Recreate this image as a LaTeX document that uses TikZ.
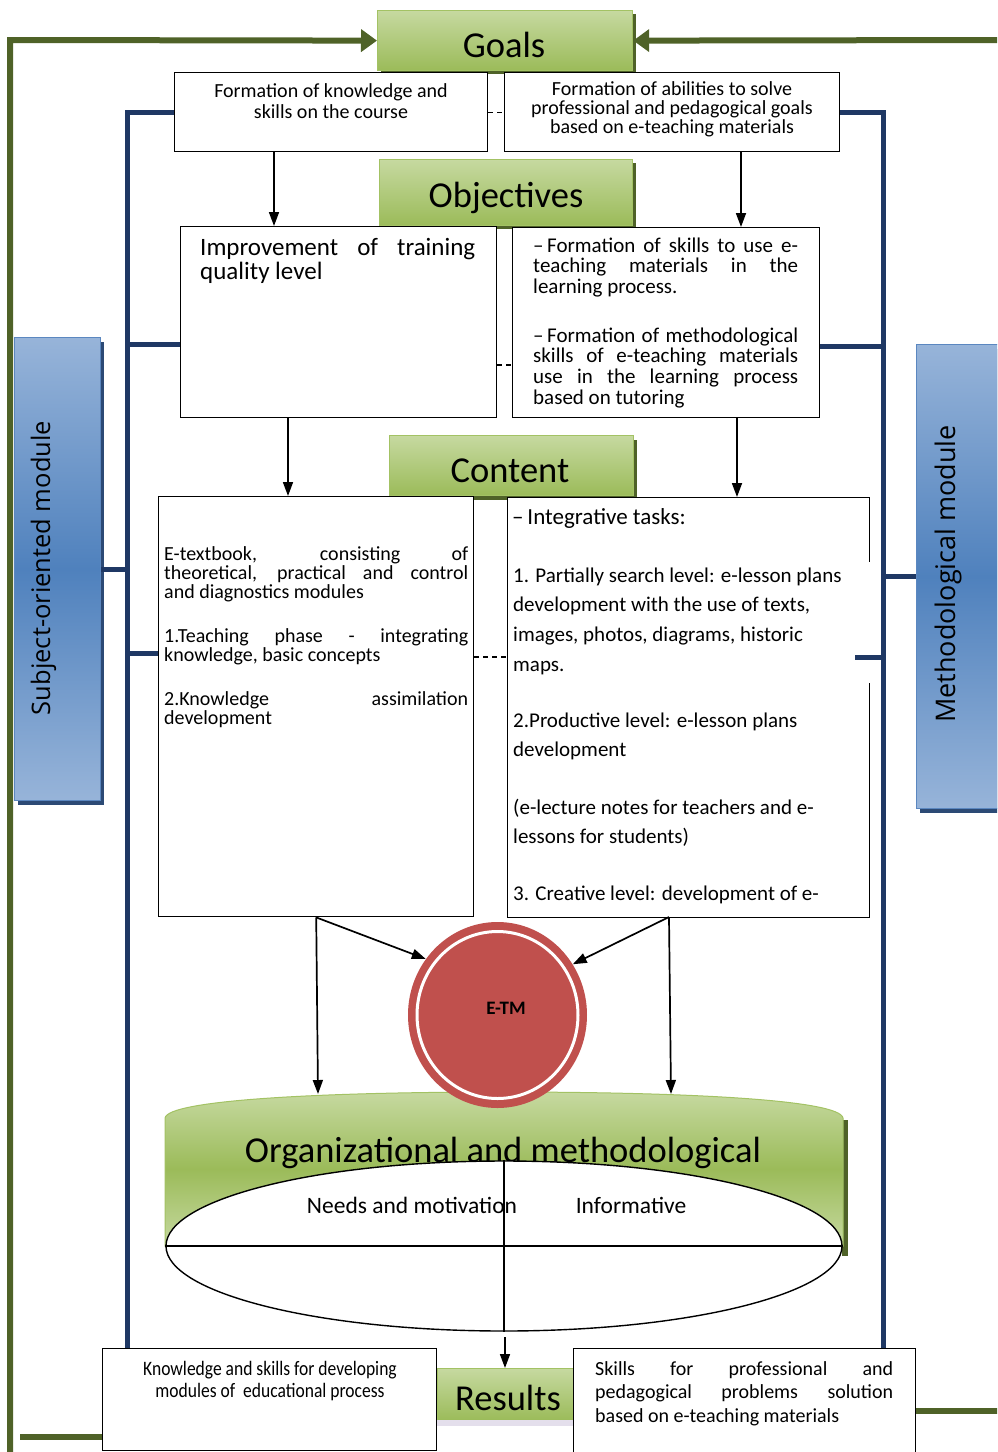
\documentclass[tikz,border=0pt]{standalone}
\usepackage{fontspec}
\setmainfont{Carlito}
\newfontfamily\modfont{Open Sans}
\usetikzlibrary{arrows.meta,shapes.geometric}
\definecolor{gline}{HTML}{4F6228}
\definecolor{bline}{HTML}{1F3864}
\definecolor{gtop}{HTML}{C6D9A0}
\definecolor{gbot}{HTML}{9BBB59}
\definecolor{gedge}{HTML}{A3C264}
\definecolor{btop}{HTML}{97B4D9}
\definecolor{bmid}{HTML}{4F81BD}
\definecolor{bedge}{HTML}{5B87C0}
\definecolor{bshad}{HTML}{2C4A75}
\definecolor{etmred}{HTML}{C0504D}
\definecolor{lav}{HTML}{E4DFEC}
\newcommand{\jline}[2]{\makebox[#1][s]{#2}}
\newcommand{\fs}[2]{\fontsize{#1}{#2}\selectfont\lineskiplimit=-100pt}
\newcommand{\cond}[1]{\scalebox{0.855}[1]{#1}}
\begin{document}
\begin{tikzpicture}[x=1pt,y=-1pt,
  wbox/.style={draw=black, line width=1.4pt, fill=white, inner sep=0, anchor=north west},
  gbox/.style={draw=gedge, line width=1.2pt, top color=gtop, bottom color=gbot, inner sep=0, anchor=north west},
  gshadow/.style={fill=gline, draw=none, inner sep=0, anchor=north west},
  bmod/.style={draw=bedge, line width=1.2pt, top color=btop, bottom color=btop, middle color=bmid, inner sep=0, anchor=north west},
  bshadow/.style={fill=bshad, draw=none, inner sep=0, anchor=north west},
  head/.style={anchor=base, inner sep=0, font=\fs{36.5}{40}},
  para/.style={anchor=north west, inner sep=0, align=left},
  arr/.style={-{Triangle[length=14pt,width=10pt]}, line width=1.7pt, black},
  garr/.style={-{Triangle[length=16pt,width=22pt]}, line width=6pt, gline, line join=miter},
  bl/.style={line width=5pt, bline, line join=miter},
  gl/.style={line width=6pt, gline},
  dsh/.style={line width=1.2pt, dash pattern=on 5pt off 4pt}
]
\useasboundingbox (0,0) rectangle (997,1452);
\clip (0,0) rectangle (997,1452);

% ---------- heading boxes ----------
\node[gshadow, minimum width=255, minimum height=60] (goalsS) at (381,14) {};
\node[gbox, minimum width=255, minimum height=60] (goals) at (377,10) {};
\node[head] (goalsT) at (504,57) {Goals};

\node[wbox, minimum width=313, minimum height=79] (g1) at (174,72) {};
\node[wbox, minimum width=335, minimum height=79] (g2) at (504,72) {};
\node[para, align=center, anchor=north, font=\fs{20}{21}] (g1T) at (331,82.3) {\strut Formation of knowledge and\\skills on the course};
\node[para, align=center, anchor=north, font=\fs{20}{18.8}] (g2T) at (672,81.8) {\strut Formation of abilities to solve\\professional and pedagogical goals\\based on e-teaching materials};

\node[gshadow, minimum width=253, minimum height=66] (objS) at (383,163) {};
\node[gbox, minimum width=253, minimum height=66] (obj) at (379,159) {};
\node[head] (objT) at (506,207) {Objectives};

\node[wbox, minimum width=316, minimum height=191] (o1) at (180,226) {};
\node[wbox, minimum width=307, minimum height=190] (o2) at (512,227) {};
\node[para, font=\fs{25}{23.5}] (o1T) at (200,238.5) {\strut\jline{275pt}{Improvement of training}\\quality level};
\node[para, font=\fs{21}{20.6}] (o2a) at (533,237.6) {\strut\jline{265pt}{–\,Formation of skills to use e-}\\\jline{265pt}{teaching materials in the}\\learning process.};
\node[para, font=\fs{21}{20.6}] (o2b) at (533,327.6) {\strut\jline{265pt}{–\,Formation of methodological}\\\jline{265pt}{skills of e-teaching materials}\\\jline{265pt}{use in the learning process}\\based on tutoring};

\node[gshadow, minimum width=244, minimum height=60] (conS) at (393,440) {};
\node[gbox, minimum width=244, minimum height=60] (con) at (389,435) {};
\node[head] (conT) at (510,482) {Content};

\node[wbox, minimum width=315, minimum height=420] (cl) at (158,496) {};
\node[wbox, minimum width=362, minimum height=420] (cr) at (507,497) {};
\draw[white, line width=3pt] (869,562) -- (869,683);
\node[para, font=\fs{20}{18.8}] (cl1) at (164,546.8) {\strut\jline{304pt}{E-textbook, consisting of}\\\jline{304pt}{theoretical, practical and control}\\and diagnostics modules};
\node[para, font=\fs{20}{18.8}] (cl2) at (164,628.8) {\strut\jline{304pt}{1.Teaching phase - integrating}\\knowledge, basic concepts};
\node[para, font=\fs{20}{18.8}] (cl3) at (164,691.8) {\strut\jline{304pt}{2.Knowledge assimilation}\\development};

\node[anchor=base west, inner sep=0, font=\fs{23}{28}] (cr0) at (512,524) {–\,Integrative tasks:};
\node[para, font=\fs{21}{29.8}] (cr1) at (513,561.1) {\strut 1. Partially search level: e-lesson plans\\development with the use of texts,\\images, photos, diagrams, historic\\maps.};
\node[para, font=\fs{21}{29.8}] (cr2) at (513,706.1) {\strut 2.Productive level: e-lesson plans\\development};
\node[para, font=\fs{21}{29.8}] (cr3) at (513,793.1) {\strut (e-lecture notes for teachers and e-\\lessons for students)};
\node[para, font=\fs{21}{29.8}] (cr4) at (513,879.1) {\strut 3. Creative level: development of e-};

% ---------- side modules ----------
\node[bshadow, minimum width=86, minimum height=463] (subjS) at (18,342) {};
\node[bmod, minimum width=86, minimum height=463] (subj) at (14,337) {};
\node[rotate=90, anchor=base, inner sep=0, font=\modfont\fontsize{25.5}{28}\selectfont] (subjT) at (50,568) {Subject-oriented module};
\node[bshadow, minimum width=95, minimum height=464] (methS) at (920,349) {};
\node[bmod, minimum width=95, minimum height=464] (meth) at (916,344) {};
\node[rotate=90, anchor=base, inner sep=0, font=\modfont\fontsize{27}{30}\selectfont] (methT) at (955,574) {Methodological module};

% ---------- organizational banner ----------
\fill[gline] (842,1120) rectangle (848,1256);
\path[draw=gedge, line width=1pt, top color=gtop, bottom color=gtop, middle color=gbot]
  (165,1246) -- (165,1118) .. controls (168,1100) and (320,1092) .. (504,1092)
  .. controls (690,1092) and (840,1100) .. (843,1118) -- (843,1246) -- cycle;
\node[head] (orgT) at (503,1162) {Organizational and methodological};
\node[ellipse, draw=black, line width=1.4pt, fill=white, minimum width=676, minimum height=170, inner sep=0] (oval) at (504,1246) {};
\draw[line width=1.4pt] (oval.west) -- (oval.east);
\draw[line width=1.4pt] (oval.north) -- (oval.south);
\node[anchor=base, inner sep=0, font=\fs{23.5}{26}] (needs) at (412,1213) {Needs and motivation};
\node[anchor=base, inner sep=0, font=\fs{23.5}{26}] (inform) at (631,1213) {Informative};

% ---------- E-TM ----------
\node[ellipse, fill=etmred, minimum width=179, minimum height=186, inner sep=0] (etm) at (497.5,1015) {};
\draw[white, line width=3pt] (etm.center) ellipse [x radius=80.5, y radius=83.5];
\node[anchor=base, inner sep=0, font=\bfseries\fs{19}{22}] (etmT) at (506,1014) {E-TM};

% ---------- results ----------
\node[gbox, minimum width=136, minimum height=52] (res) at (437,1368) {};
\fill[lav] (437,1420) rectangle (573,1426);
\node[head] (resT) at (508,1410) {Results};
\node[wbox, minimum width=334, minimum height=102] (know) at (102,1348) {};
\node[wbox, minimum width=342, minimum height=115] (skills) at (573,1348) {};
\node[para, align=center, anchor=north, font=\fs{20.5}{22}] (knowT) at (270,1360) {\strut\cond{Knowledge and skills for developing}\\\cond{modules of\ \ educational process}};
\node[para, font=\fs{20}{23.5}] (skillsT) at (595,1358.5) {\strut\jline{298pt}{Skills for professional and}\\\jline{298pt}{pedagogical problems solution}\\based on e-teaching materials};

% ---------- coordinates ----------
\coordinate (gTL) at (10,40);
\coordinate (gBL) at (10,1470);
\coordinate (gTR) at (1010,40);
\coordinate (gB1) at (20,1437);
\coordinate (gB2) at (1010,1411);
\coordinate (bL) at (127,0);
\coordinate (bR) at (883,0);
\coordinate (yb1) at (0,344);
\coordinate (yb3) at (0,653);
\coordinate (yb4) at (0,346);
\coordinate (c855) at (855,657);
\coordinate (x1) at (274,0);
\coordinate (x2) at (741,0);
\coordinate (x3) at (288,0);
\coordinate (x4) at (737,0);
\coordinate (crs) at (669,917);
\coordinate (banL) at (318,1094);
\coordinate (banR) at (671,1094);
\coordinate (yd2) at (0,365);
\coordinate (yd3) at (0,657);
\coordinate (ovb) at (505,1337);

% ---------- green feedback lines ----------
\draw[garr] (gBL) -- (gTL) -- (goals.west);
\draw[garr] (gTR) -- (goals.east);
\draw[gl] (gB1) -- (gB1 -| know.west);
\draw[gl] (skills.east |- gB2) -- (gB2);

% ---------- blue module lines ----------
\draw[bl] (g1.west) -| (bL |- know.north);
\draw[bl] (g2.east) -| (bR |- skills.north);
\draw[bl] (bL |- yb1) -- (o1.west |- yb1);
\draw[bl] (subj.east) -- (subj.east -| bL);
\draw[bl] (bL |- yb3) -- (cl.west |- yb3);
\draw[bl] (o2.east |- yb4) -- (bR |- yb4);
\draw[bl] (bR |- meth.west) -- (meth.west);
\draw[bl] (c855) -- (bR |- c855);

% ---------- dashed links ----------
\draw[dsh] (g1.east) -- (g2.west);
\draw[dsh] (o1.east |- yd2) -- (o2.west |- yd2);
\draw[dsh] (cl.east |- yd3) -- (cr.west |- yd3);

% ---------- arrows ----------
\draw[arr] (g1.south -| x1) -- (o1.north -| x1);
\draw[arr] (g2.south -| x2) -- (o2.north -| x2);
\draw[arr] (o1.south -| x3) -- (cl.north -| x3);
\draw[arr] (o2.south -| x4) -- (cr.north -| x4);
\draw[arr] (cl.south) -- (etm.142);
\draw[arr] (cl.south) -- (banL);
\draw[arr] (crs) -- (etm.34);
\draw[arr] (crs) -- (banR);
\draw[arr] (ovb) -- (ovb |- res.north);
\end{tikzpicture}
\end{document}
